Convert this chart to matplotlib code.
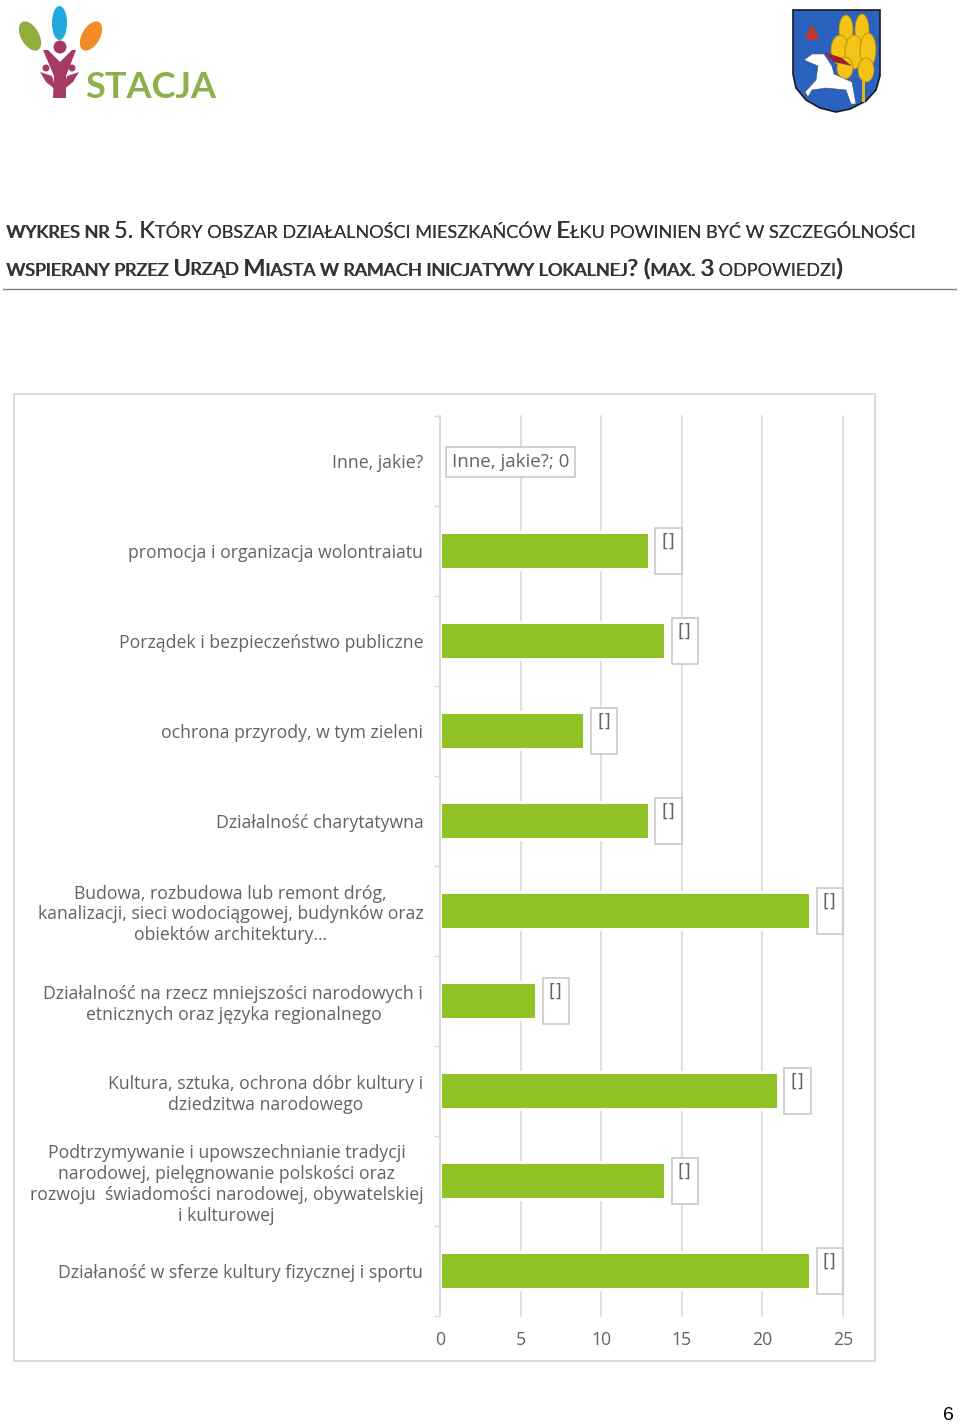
import matplotlib
matplotlib.use('Agg')
import matplotlib.pyplot as plt
from matplotlib.patches import Rectangle, Ellipse, Circle, Polygon

# dane wykresu (od dolu do gory)
categories = [
    'Działaność w sferze kultury fizycznej i sportu',
    'Podtrzymywanie i upowszechnianie tradycji\nnarodowej, pielęgnowanie polskości oraz\nrozwoju  świadomości narodowej, obywatelskiej\ni kulturowej',
    'Kultura, sztuka, ochrona dóbr kultury i\ndziedzitwa narodowego',
    'Działalność na rzecz mniejszości narodowych i\netnicznych oraz języka regionalnego',
    'Budowa, rozbudowa lub remont dróg,\nkanalizacji, sieci wodociągowej, budynków oraz\nobiektów architektury...',
    'Działalność charytatywna',
    'ochrona przyrody, w tym zieleni',
    'Porządek i bezpieczeństwo publiczne',
    'promocja i organizacja wolontraiatu',
    'Inne, jakie?',
]
values = [23, 14, 21, 6, 23, 13, 9, 14, 13, 0]
x_ticks = [0, 5, 10, 15, 20, 25]

title_line1 = [('WYKRES NR ', 's'), ('5. K', 'b'), ('TÓRY OBSZAR DZIAŁALNOŚCI MIESZKAŃCÓW ', 's'),
               ('E', 'b'), ('ŁKU POWINIEN BYĆ W SZCZEGÓLNOŚCI', 's')]
title_line2 = [('WSPIERANY PRZEZ ', 's'), ('U', 'b'), ('RZĄD ', 's'), ('M', 'b'),
               ('IASTA W RAMACH INICJATYWY LOKALNEJ', 's'), ('? (', 'b'), ('MAX. ', 's'),
               ('3', 'b'), (' ODPOWIEDZI', 's'), (')', 'b')]

W, H = 960, 1427
GREEN = '#90c226'
GRID = '#d9d9d9'
TXT = '#636363'
LABEL_FONT = ['Open Sans', 'DejaVu Sans']
TITLE_FONT = ['Lato', 'Liberation Sans']
FS = 12.72

fig = plt.figure(figsize=(W / 100, H / 100), dpi=100, facecolor='white')

# warstwa tla w pikselach
bg = fig.add_axes([0, 0, 1, 1])
bg.set_xlim(0, W)
bg.set_ylim(H, 0)
bg.axis('off')

# ramka wykresu i linia pod tytulem
bg.add_patch(Rectangle((14, 394), 861, 967, fc='white', ec=GRID, lw=1.4))
bg.plot([3, 956], [288.5, 288.5], color='#808080', lw=1.0)

# logo STACJA
bg.add_patch(Ellipse((59.5, 23), 15, 34, fc='#1fa8dc'))
bg.add_patch(Ellipse((30, 36), 18, 32, angle=-30, fc='#8fae3c'))
bg.add_patch(Ellipse((91, 36), 18, 32, angle=30, fc='#f28c28'))
PINK = '#a63a66'
bg.add_patch(Circle((60, 47), 6.5, fc=PINK))
bg.add_patch(Polygon([(43, 50), (48, 50), (60, 62), (72, 50), (76, 50), (66, 76), (66, 98),
                      (53, 98), (54, 76)], fc=PINK))
bg.add_patch(Circle((46, 68), 3.5, fc=PINK))
bg.add_patch(Circle((72, 68), 3.5, fc=PINK))
bg.add_patch(Polygon([(40, 72), (52, 76), (56, 90), (46, 82)], fc=PINK))
bg.add_patch(Polygon([(79, 72), (67, 76), (63, 90), (73, 82)], fc=PINK))
bg.text(85, 98, 'STACJA', color='#8db04a', fontsize=26, fontweight='bold',
        family=TITLE_FONT, ha='left', va='baseline')

# herb
bg.add_patch(Polygon([(793, 10), (880, 10), (880, 76), (876, 90), (866, 101), (850, 109), (836, 112),
                      (820, 108), (806, 100), (796, 88), (793, 74)], fc='#2a62c0', ec='#1a1a1a', lw=1.2))
for cx, cy, w, h in [(846, 30, 14, 30), (862, 30, 14, 32), (840, 50, 18, 30), (854, 52, 18, 34),
                     (868, 50, 16, 34), (845, 68, 16, 22), (866, 70, 16, 24)]:
    bg.add_patch(Ellipse((cx, cy), w, h, fc='#f3c316', ec='#b98a10', lw=0.6))
bg.add_patch(Rectangle((862, 78), 2.5, 24, fc='#e2b51a'))
bg.add_patch(Polygon([(804, 60), (812, 54), (824, 54), (832, 66), (834, 74), (852, 82), (856, 104),
                      (851, 104), (846, 90), (826, 88), (812, 90), (808, 97), (805, 92), (816, 80),
                      (818, 66)], fc='white', ec='#555555', lw=0.4))
bg.add_patch(Polygon([(806, 36), (812, 24), (818, 36), (818, 40), (806, 40)], fc='#c0392b'))
bg.add_patch(Polygon([(824, 52), (842, 58), (852, 66), (834, 62)], fc='#9c1f2e'))

# wykres
ax = fig.add_axes([440 / W, (H - 1316) / H, 403 / W, 900 / H], facecolor='none')
ypos = list(range(len(categories)))
inset = 0.11
bar_vals = [v for v in values if v > 0]
bar_pos = [p for p, v in zip(ypos, values) if v > 0]
# biala obwodka przerywa linie siatki wokol slupka
ax.barh(bar_pos, [v - 2 * inset for v in bar_vals], left=inset, height=0.445, color='white', zorder=2)
ax.barh(bar_pos, [v - 2 * inset for v in bar_vals], left=inset, height=0.367, color=GREEN, zorder=3)

ax.set_xlim(0, 25)
ax.set_ylim(-0.5, 9.5)
ax.set_xticks(x_ticks)
ax.set_xticklabels([str(t) for t in x_ticks], family=LABEL_FONT, fontsize=FS, color=TXT)
ax.set_yticks(ypos)
ax.set_yticklabels(categories, family=LABEL_FONT, fontsize=FS, color=TXT,
                   multialignment='center', linespacing=1.2)
ax.set_yticks([p - 0.5 for p in range(11)], minor=True)
ax.tick_params(axis='x', length=0, pad=11)
ax.tick_params(axis='y', which='major', length=0, pad=12)
ax.tick_params(axis='y', which='minor', length=4.3, width=1, color=GRID)
ax.grid(axis='x', color=GRID, lw=1.2, zorder=1, clip_on=False)
ax.set_axisbelow(True)
for side in ['top', 'right', 'bottom']:
    ax.spines[side].set_visible(False)
ax.spines['left'].set_color(GRID)
ax.spines['left'].set_linewidth(1.2)

# etykiety danych
for p, v in zip(ypos, values):
    if v > 0:
        ax.annotate('    \n ', xy=(v, p), xytext=(19, 0), textcoords='offset pixels',
                    ha='center', va='center', family=LABEL_FONT, fontsize=FS, color=TXT,
                    linespacing=1.2, zorder=5,
                    bbox=dict(boxstyle='square,pad=0.22', fc='white', ec='#c9c9c9', lw=1.2))
        ax.annotate('[]', xy=(v, p), xytext=(19, 9), textcoords='offset pixels',
                    ha='center', va='center', family=['DejaVu Sans'], fontsize=FS, color=TXT,
                    zorder=6)
    else:
        ax.annotate('Inne, jakie?; 0', xy=(v, p), xytext=(12, -1), textcoords='offset pixels',
                    ha='left', va='center', family=LABEL_FONT, fontsize=13.5, color=TXT, zorder=5,
                    bbox=dict(boxstyle='square,pad=0.3', fc='white', ec='#c9c9c9', lw=1.2))

# tytul - kapitaliki skladane z kawalkow
fig.canvas.draw()
renderer = fig.canvas.get_renderer()
sizes = {'s': 13.1, 'b': 17.0}


def run_width(s, size):
    probe = bg.text(0, 0, s + '|', family=TITLE_FONT, fontsize=size)
    bar = bg.text(0, 0, '|', family=TITLE_FONT, fontsize=size)
    w = probe.get_window_extent(renderer).width - bar.get_window_extent(renderer).width
    probe.remove()
    bar.remove()
    return w


def draw_title(runs, x, y):
    for s, k in runs:
        for dx in (0, 0.7):
            bg.text(x + dx, y, s, family=TITLE_FONT, fontsize=sizes[k], color='#333333',
                    ha='left', va='baseline')
        x += run_width(s, sizes[k])


draw_title(title_line1, 6, 238.5)
draw_title(title_line2, 6, 275.5)

bg.text(948, 1416, '6', color='black', fontsize=14, family=['Liberation Sans'],
        ha='center', va='center')

fig.savefig('out.png', dpi=100)
